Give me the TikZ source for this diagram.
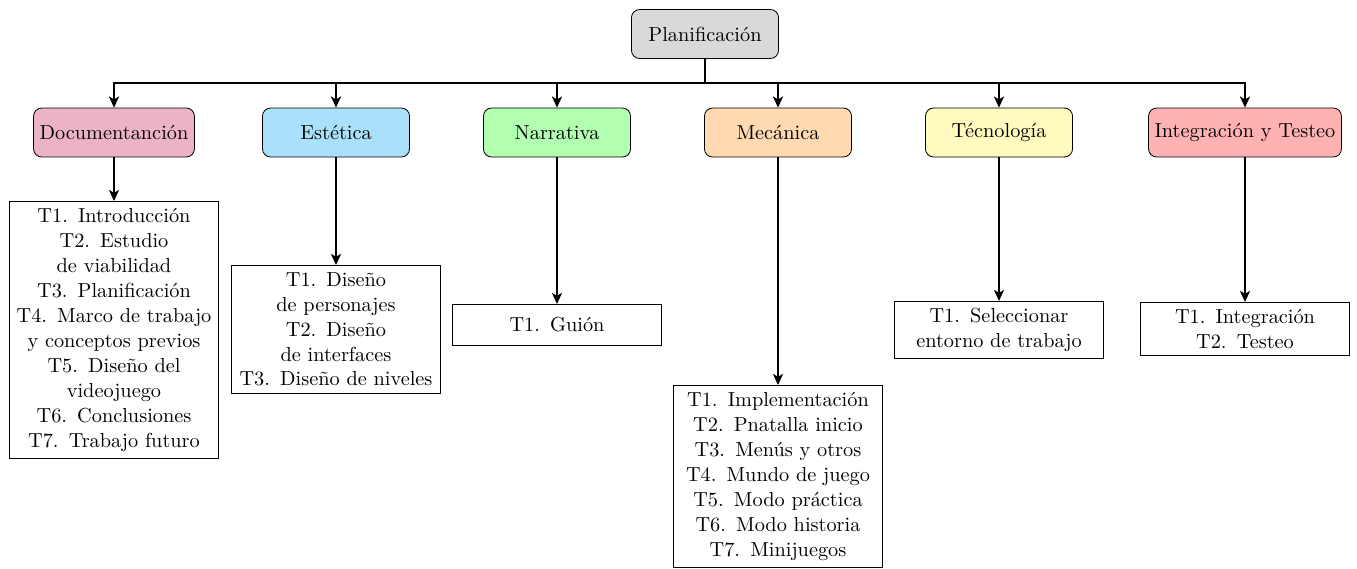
\documentclass[tikz,border=0pt]{standalone}
\usetikzlibrary{arrows.meta}
\definecolor{docfill}{RGB}{236,178,198}
\definecolor{estfill}{RGB}{170,224,250}
\definecolor{narfill}{RGB}{178,255,178}
\definecolor{mecfill}{RGB}{255,217,178}
\definecolor{tecfill}{RGB}{255,250,190}
\definecolor{intfill}{RGB}{255,178,178}
\definecolor{topfill}{RGB}{217,217,217}
\begin{document}
\begin{tikzpicture}[x=0.4923pt,y=-0.4923pt,
  phase/.style={draw, rounded corners=4pt, minimum width=72.4pt, minimum height=24.1pt, inner sep=3pt},
  tasks/.style={draw, rectangle, align=center, text width=96pt, minimum height=20.2pt, inner sep=3.33pt,
    font=\linespread{1.025}\selectfont},
  arr/.style={thick, -{Stealth[length=5.5pt,width=5pt,inset=1.5pt]}}]
\useasboundingbox (0,0) rectangle (1357,568);

% root
\node[phase, fill=topfill] (root) at (705,34) {Planificación};

% phases
\node[phase, fill=docfill] (doc) at (114,132.5) {Documentanción};
\node[phase, fill=estfill] (est) at (336,132.5) {Estética};
\node[phase, fill=narfill] (nar) at (557,132.5) {Narrativa};
\node[phase, fill=mecfill] (mec) at (778,132.5) {Mecánica};
\node[phase, fill=tecfill] (tec) at (999,132.5) {Técnología};
\node[phase, fill=intfill] (int) at (1245,132.5) {Integración y Testeo};

% task lists
\node[tasks, anchor=north] (tdoc) at (114,201) {T1. Introducción\\T2. Estudio\\de viabilidad\\T3. Planificación\\T4. Marco de trabajo\\y conceptos previos\\T5. Diseño del\\videojuego\\T6. Conclusiones\\T7. Trabajo futuro};
\node[tasks, anchor=north] (test) at (336,265) {T1. Diseño\\de personajes\\T2. Diseño\\de interfaces\\T3. Diseño de niveles};
\node[tasks, anchor=north] (tnar) at (557,304) {T1. Guión};
\node[tasks, anchor=north] (tmec) at (778,385) {T1. Implementación\\T2. Pnatalla inicio\\T3. Menús y otros\\T4. Mundo de juego\\T5. Modo práctica\\T6. Modo historia\\T7. Minijuegos};
\node[tasks, anchor=north] (ttec) at (999,301) {T1. Seleccionar\\entorno de trabajo};
\node[tasks, anchor=north] (tint) at (1245,302) {T1. Integración\\T2. Testeo};

% root to phases
\foreach \p in {doc,est,nar,mec,tec,int}
  \draw[arr] (root.south) -- ++(0,24) -| (\p.north);

% phases to task lists
\draw[arr] (doc.south) -- (tdoc.north);
\draw[arr] (est.south) -- (test.north);
\draw[arr] (nar.south) -- (tnar.north);
\draw[arr] (mec.south) -- (tmec.north);
\draw[arr] (tec.south) -- (ttec.north);
\draw[arr] (int.south) -- (tint.north);
\end{tikzpicture}
\end{document}
